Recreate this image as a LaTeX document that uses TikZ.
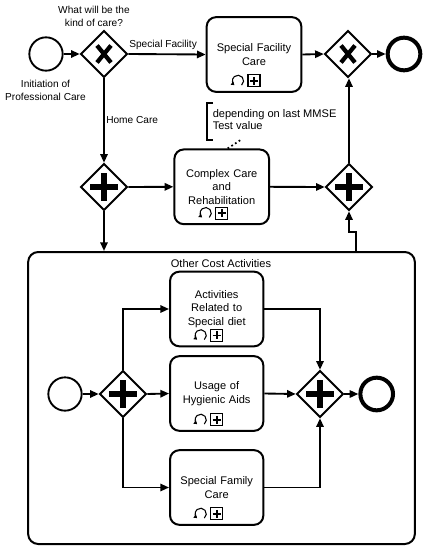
\documentclass[tikz,border=0pt]{standalone}
\usepackage{fontspec}
\setmainfont{Liberation Sans}
\usetikzlibrary{shapes.geometric,arrows.meta}
\newcommand\tfont{\fontsize{8.3}{10.1}\selectfont}
\newcommand\lfont{\fontsize{7.6}{9.8}\selectfont}
\newcommand\afont{\fontsize{8.3}{9.3}\selectfont}
\begin{document}
\begin{tikzpicture}[x=0.75pt,y=-0.75pt,
 flow/.style={-{Triangle[length=6.5pt,width=5.5pt]}, line width=1.4pt},
 task/.style={draw, rounded corners=7pt, line width=1.5pt, minimum width=71pt, minimum height=56pt, align=center, font=\tfont, inner sep=1pt, text width=68pt},
 gw/.style={draw, diamond, aspect=1, minimum size=35pt, inner sep=0pt, line width=1.4pt},
 startev/.style={draw, circle, minimum size=25pt, inner sep=0pt, line width=1.4pt},
 endev/.style={draw, circle, minimum size=24.5pt, inner sep=0pt, line width=3pt},
 lbl/.style={font=\lfont, align=center, inner sep=0pt},
 xmk/.style={line width=3.2pt},
 pmk/.style={line width=4.5pt},
]
\useasboundingbox (0,0) rectangle (428,550);

\newcommand\xgw[1]{%
  \draw[xmk] ([shift={(-7,-8.5)}]#1.center) -- ([shift={(7,8.5)}]#1.center);
  \draw[xmk] ([shift={(-7,8.5)}]#1.center) -- ([shift={(7,-8.5)}]#1.center);}
\newcommand\pgw[1]{%
  \draw[pmk] ([shift={(-14,0)}]#1.center) -- ([shift={(14,0)}]#1.center);
  \draw[pmk] ([shift={(0,-14)}]#1.center) -- ([shift={(0,14)}]#1.center);}
\newcommand\tmk[1]{%
  \draw[line width=0.8pt, -{Triangle[length=2.4pt,width=3pt]}] ([shift={(-16,-12)}]#1.south) ++(-50:4.2pt) arc[start angle=-50, end angle=230, radius=4.2pt];
  \draw[line width=0.9pt] ([shift={(-6,-18)}]#1.south) rectangle ([shift={(6,-6)}]#1.south);
  \draw[line width=1.2pt] ([shift={(-4,-12)}]#1.south) -- ([shift={(4,-12)}]#1.south);
  \draw[line width=1.2pt] ([shift={(0,-16)}]#1.south) -- ([shift={(0,-8)}]#1.south);}

% top row
\node[startev] (s1) at (46,54) {};
\node[lbl] (s1lab) at (45.5,90.5) {Initiation of\\Professional Care};
\node[gw] (g1) at (104,54) {};
\xgw{g1}
\node[lbl] (g1lab) at (94,16.5) {What will be the\\kind of care?};
\node[task] (t1) at (254,54.5) {Special Facility\\Care};
\tmk{t1}
\node[gw] (g3) at (348,54) {};
\xgw{g3}
\node[endev] (e1) at (404,54) {};

% middle row
\node[gw] (g2) at (104,187) {};
\pgw{g2}
\node[task] (t2) at (221.7,186.8) {Complex Care\\and\\Rehabilitation};
\tmk{t2}
\node[gw] (g4) at (349,187) {};
\pgw{g4}

% annotation
\node[font=\afont, align=left, anchor=west, inner sep=0pt] (ann) at (212.5,119.5) {depending on last MMSE\\Test value};
\draw[line width=1.4pt] (213,103) -- (207,103) -- (207,140) -- (213,140);
\coordinate (annend) at (242,139);
\draw[dotted, line width=1.3pt] ([xshift=4.5]t2.north) -- (annend);

% subprocess
\node[draw, rounded corners=7.5pt, line width=1.5pt, minimum width=290pt, minimum height=219pt, inner sep=0pt] (oc) at (221.5,398) {};
\node[font=\tfont, inner sep=0pt] (octitle) at (221,263.5) {Other Cost Activities};
\node[startev] (is) at (65,394) {};
\node[gw] (ig1) at (123,394) {};
\pgw{ig1}
\node[task, minimum width=69.75pt] (ta) at (216.7,309) {Activities\\Related to\\Special diet};
\tmk{ta}
\node[task, minimum width=69.75pt] (tb) at (216.7,393.5) {Usage of\\Hygienic Aids};
\tmk{tb}
\node[task, minimum width=69.75pt] (tc) at (216.7,487.5) {Special Family\\Care};
\tmk{tc}
\node[gw] (ig2) at (320,394) {};
\pgw{ig2}
\node[endev] (ie) at (376.7,394) {};

% flows top
\draw[flow] (s1) -- (g1.west);
\draw[flow] (g1.east) -- node[lbl, above=3pt, pos=0.45] (sflab) {Special Facility} (t1.west);
\draw[flow] (t1.east) -- (g3.west);
\draw[flow] (g3.east) -- (e1.west);
\draw[flow] (g1.south) -- (g2.north);
\node[lbl, anchor=west] (hclab) at (106,120) {Home Care};
\draw[flow] (g2.east) -- (t2.west);
\draw[flow] (t2.east) -- (g4.west);
\draw[flow] (g4.north) -- (g4.north |- g3.south);
\draw[flow] (g2.south) -- (g2.south |- oc.north);
\coordinate (ocout) at (356,252);
\draw[flow] (ocout) -- ++(0,-20) -| (g4.south);

% flows inner
\draw[flow] (is) -- (ig1.west);
\draw[flow] (ig1.east) -- (tb.west);
\draw[flow] (ig1.north) |- (ta.west);
\draw[flow] (ig1.south) |- (tc.west);
\draw[flow] (ta.east) -| (ig2.north);
\draw[flow] (tb.east) -- (ig2.west);
\draw[flow] (tc.east) -| (ig2.south);
\draw[flow] (ig2.east) -- (ie.west);
\end{tikzpicture}
\end{document}
